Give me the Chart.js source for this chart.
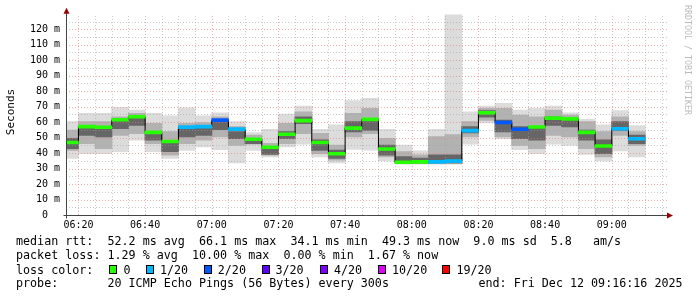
<!DOCTYPE html>
<html>
<head>
<meta charset="utf-8">
<script src="https://cdn.jsdelivr.net/npm/chart.js@4/dist/chart.umd.min.js"></script>
<style>
  body { margin: 0; background: #fff; }
  #wrap { position: relative; width: 697px; height: 297px; overflow: hidden; }
  #chart { position: absolute; left: 0; top: 0; }
  .txt { position: absolute; font-family: 'DejaVu Sans Mono', monospace; font-size: 11.7px; line-height: 14px; white-space: pre; color: #000; }
  .box { position: absolute; width: 8px; height: 9px; box-sizing: border-box; border: 1px solid #000; }
  #ylab { position: absolute; left: -14px; top: 106px; width: 50px; text-align: center; transform: rotate(-90deg);
          font-family: 'DejaVu Sans Mono', monospace; font-size: 11px; line-height: 12px; }
  #credit { position: absolute; left: 683px; top: 5px; writing-mode: vertical-rl; font-family: 'DejaVu Sans Mono', monospace;
            font-size: 8.3px; color: #bbb; letter-spacing: 0; }
</style>
</head>
<body>
<div id="wrap">
  <canvas id="chart" width="697" height="297"></canvas>
  <div id="ylab">Seconds</div>
  <div id="credit">RRDTOOL / TOBI OETIKER</div>
  <div class="txt" style="left:16px;top:234px">median rtt:  52.2 ms avg  66.1 ms max  34.1 ms min  49.3 ms now  9.0 ms sd  5.8   am/s</div>
  <div class="txt" style="left:16px;top:248px">packet loss: 1.29 % avg  10.00 % max  0.00 % min  1.67 % now</div>
  <div class="txt" style="left:16px;top:262.5px">loss color:</div>
  <div id="losslegend"></div>
  <div class="txt" style="left:16px;top:276px">probe:       20 ICMP Echo Pings (56 Bytes) every 300s</div>
  <div class="txt" style="left:478.5px;top:276px">end: Fri Dec 12 09:16:16 2025</div>
</div>
<script>
// end time of each 5 minute step
const stepEnd = ['06:20','06:25','06:30','06:35','06:40','06:45','06:50','06:55','07:00','07:05',
  '07:10','07:15','07:20','07:25','07:30','07:35','07:40','07:45','07:50','07:55',
  '08:00','08:05','08:10','08:15','08:20','08:25','08:30','08:35','08:40','08:45',
  '08:50','08:55','09:00','09:05','09:10'];

// median rtt (ms)
const median = [46.8, 57.1, 56.7, 61.5, 63.5, 53.4, 47.5, 56.8, 57.1, 61.3,
  55.5, 48.9, 43.8, 52.2, 61.0, 46.8, 39.6, 56.1, 61.8, 42.6,
  34.1, 34.3, 34.3, 34.8, 54.5, 66.1, 59.8, 55.4, 56.9, 62.6,
  62.1, 53.4, 44.6, 55.7, 49.3];

// lost pings out of 20
const loss = [0, 0, 0, 0, 0, 0, 0, 1, 1, 2,
  1, 0, 0, 0, 0, 0, 0, 0, 0, 0,
  0, 0, 1, 1, 1, 0, 2, 2, 0, 0,
  0, 0, 0, 1, 1];

// smoke: full range of pings
const smokeMin = [36.6, 39.8, 39.8, 41.0, 48.4, 41.0, 36.6, 41.9, 44.1, 42.3,
  33.7, 41.9, 37.6, 44.1, 45.8, 37.6, 33.7, 42.5, 42.0, 35.0,
  32.9, 32.9, 32.9, 32.9, 45.8, 59.6, 49.5, 42.3, 39.8, 45.8,
  45.1, 39.3, 35.0, 41.5, 37.6];
const smokeMax = [60.2, 65.6, 65.6, 69.4, 67.7, 65.6, 63.9, 69.2, 63.9, 65.9,
  60.2, 53.1, 55.3, 65.1, 70.3, 55.3, 58.1, 73.8, 75.3, 55.3,
  45.1, 41.3, 55.3, 129.3, 66.6, 70.3, 72.0, 67.7, 68.8, 70.3,
  65.9, 61.7, 58.1, 67.3, 57.6];
// smoke: middle pings
const midLo = [41.9, 46.2, 42.9, 51.6, 52.7, 46.2, 38.7, 46.2, 48.4, 50.5,
  45.1, 45.8, 38.7, 46.2, 52.7, 39.8, 35.5, 50.5, 52.7, 37.6,
  33.3, 33.3, 33.3, 33.3, 50.5, 61.3, 50.5, 45.1, 42.9, 51.6,
  50.5, 42.9, 37.6, 51.6, 45.1];
const midHi = [54.8, 60.2, 60.2, 63.4, 65.6, 59.1, 53.8, 59.1, 59.6, 63.4,
  57.0, 51.6, 46.2, 59.1, 66.6, 52.7, 45.1, 65.6, 68.8, 49.5,
  40.9, 38.7, 50.5, 51.9, 60.2, 68.8, 68.8, 64.5, 63.4, 67.7,
  64.5, 60.2, 53.8, 63.4, 53.8];
// smoke: pings closest to the median
const coreLo = [43.0, 51.6, 50.5, 55.9, 58.0, 48.4, 41.0, 50.5, 51.6, 55.3,
  49.5, 46.2, 39.3, 49.5, 59.1, 41.9, 36.6, 53.8, 54.8, 38.7,
  33.7, 33.7, 33.7, 33.7, 53.1, 63.4, 53.8, 49.5, 48.4, 58.0,
  57.0, 48.4, 39.8, 54.8, 46.2];
const coreHi = [49.4, 57.0, 55.9, 60.9, 63.0, 52.7, 46.7, 55.9, 56.5, 60.2,
  53.8, 48.9, 43.6, 53.8, 63.4, 48.4, 41.9, 60.2, 61.3, 45.1,
  37.6, 36.6, 38.7, 38.7, 57.0, 67.3, 61.3, 57.0, 57.0, 63.4,
  62.3, 54.8, 48.4, 60.2, 51.6];

const timeTicks = ['06:20','06:40','07:00','07:20','07:40','08:00','08:20','08:40','09:00'];
const startTime = '06:16:16';
const endTime = '09:16:16';

const lossSteps = [0, 1, 2, 3, 4, 10, 19];
const lossLabels = ['0', '1/20', '2/20', '3/20', '4/20', '10/20', '19/20'];
const lossColors = ['#26ff00', '#00b8ff', '#0059ff', '#5e00ff', '#7e00ff', '#dd00ff', '#ff0000'];

function toMin(s) {
  const p = s.split(':').map(Number);
  return p[0] * 60 + p[1] + (p[2] || 0) / 60;
}
function fmt(m) {
  const h = Math.floor(m / 60), mm = Math.round(m % 60);
  return String(h).padStart(2, '0') + ':' + String(mm).padStart(2, '0');
}
function lossColor(n) {
  let c = lossColors[0];
  lossSteps.forEach((s, i) => { if (n >= s) c = lossColors[i]; });
  return c;
}

const centers = stepEnd.map(t => toMin(t) - 2.5);
const band = (lo, hi) => centers.map((x, i) => ({ x, y: [lo[i], hi[i]] }));

// legend boxes
const boxX = [108.7, 145.7, 203.5, 262, 320, 377.8, 442];
const labX = [123.5, 160, 217.8, 275.5, 334, 392, 456.4];
const lg = document.getElementById('losslegend');
lossLabels.forEach((l, i) => {
  const b = document.createElement('div');
  b.className = 'box';
  b.style.left = boxX[i] + 'px';
  b.style.top = '265px';
  b.style.background = lossColors[i];
  lg.appendChild(b);
  const t = document.createElement('div');
  t.className = 'txt';
  t.style.left = labX[i] + 'px';
  t.style.top = '262.5px';
  t.textContent = l;
  lg.appendChild(t);
});

const rrdGrid = {
  id: 'rrdGrid',
  afterDatasetDraw(chart, args) {
    if (chart.data.datasets[args.index].label !== 'core') return;
    const { ctx, chartArea: a, scales: { x, y } } = chart;
    ctx.save();
    ctx.lineWidth = 1;
    ctx.setLineDash([1, 2]);
    for (let m = Math.ceil(x.min / 5) * 5; m <= x.max; m += 5) {
      const px = Math.round(x.getPixelForValue(m)) + 0.5;
      ctx.strokeStyle = m % 20 === 0 ? 'rgba(230,120,120,0.6)' : 'rgba(160,160,160,0.55)';
      ctx.beginPath(); ctx.moveTo(px, a.bottom); ctx.lineTo(px, a.top); ctx.stroke();
    }
    for (let v = 5; v < y.max; v += 5) {
      const py = Math.round(y.getPixelForValue(v)) + 0.5;
      ctx.strokeStyle = v % 10 === 0 ? 'rgba(230,120,120,0.6)' : 'rgba(160,160,160,0.55)';
      ctx.beginPath(); ctx.moveTo(a.left, py); ctx.lineTo(a.right + 2, py); ctx.stroke();
    }
    ctx.restore();
  },
  afterDraw(chart) {
    const { ctx, chartArea: a } = chart;
    const x0 = Math.round(a.left) + 0.5, y0 = Math.round(a.bottom) + 0.5;
    ctx.save();
    ctx.strokeStyle = '#444';
    ctx.lineWidth = 1;
    ctx.beginPath();
    ctx.moveTo(x0, y0 + 3); ctx.lineTo(x0, a.top - 3);
    ctx.moveTo(x0 - 3, y0); ctx.lineTo(a.right + 3, y0);
    ctx.stroke();
    ctx.fillStyle = '#990000';
    ctx.beginPath();
    ctx.moveTo(x0, a.top - 6); ctx.lineTo(x0 - 3, a.top); ctx.lineTo(x0 + 3, a.top); ctx.closePath(); ctx.fill();
    ctx.beginPath();
    ctx.moveTo(a.right + 7, y0); ctx.lineTo(a.right + 1, y0 - 3); ctx.lineTo(a.right + 1, y0 + 3); ctx.closePath(); ctx.fill();
    ctx.restore();
  }
};

const barBase = { type: 'bar', borderWidth: 0, borderSkipped: false, inflateAmount: 0.5, clip: 0 };

new Chart(document.getElementById('chart'), {
  type: 'bar',
  data: {
    datasets: [
      { ...barBase, label: 'outer', data: band(smokeMin, smokeMax), backgroundColor: '#dcdcdc', order: 5 },
      { ...barBase, label: 'mid', data: band(midLo, midHi), backgroundColor: '#b2b2b2', order: 4 },
      { ...barBase, label: 'core', data: band(coreLo, coreHi), backgroundColor: '#666666', order: 3 },
      { type: 'line', label: 'median', data: centers.map((x, i) => ({ x, y: median[i] })), stepped: 'middle',
        borderColor: '#000', borderWidth: 1, pointRadius: 0, clip: 0, order: 2 },
      { ...barBase, inflateAmount: 0.3, label: 'loss', data: centers.map((x, i) => ({ x, y: [median[i] - 0.97, median[i] + 0.97] })),
        backgroundColor: loss.map(lossColor), order: 1 }
    ]
  },
  options: {
    responsive: false,
    animation: false,
    devicePixelRatio: 1,
    grouped: false,
    barPercentage: 1,
    categoryPercentage: 1,
    layout: { padding: { top: 13.8, right: 31, left: 0, bottom: 0 } },
    plugins: { legend: { display: false }, tooltip: { enabled: false } },
    scales: {
      x: {
        type: 'linear',
        offset: false,
        min: toMin(startTime),
        max: toMin(endTime),
        grid: { display: false, drawTicks: false, offset: false },
        border: { display: false },
        afterBuildTicks: s => { s.ticks = timeTicks.map(t => ({ value: toMin(t) })); },
        afterFit: s => { s.height = 82; },
        ticks: {
          autoSkip: false, maxRotation: 0, padding: 4, color: '#000',
          font: { family: 'DejaVu Sans Mono', size: 10 },
          callback: v => fmt(v)
        }
      },
      y: {
        min: 0,
        max: 130,
        grid: { display: false, drawTicks: false },
        border: { display: false },
        afterFit: s => { s.width = 66; },
        ticks: {
          stepSize: 10, autoSkip: false, padding: 6, color: '#000',
          font: { family: 'DejaVu Sans Mono', size: 10 },
          callback: v => v >= 130 ? '' : (v === 0 ? '0  ' : v + ' m')
        }
      }
    }
  },
  plugins: [rrdGrid]
});
</script>
</body>
</html>
